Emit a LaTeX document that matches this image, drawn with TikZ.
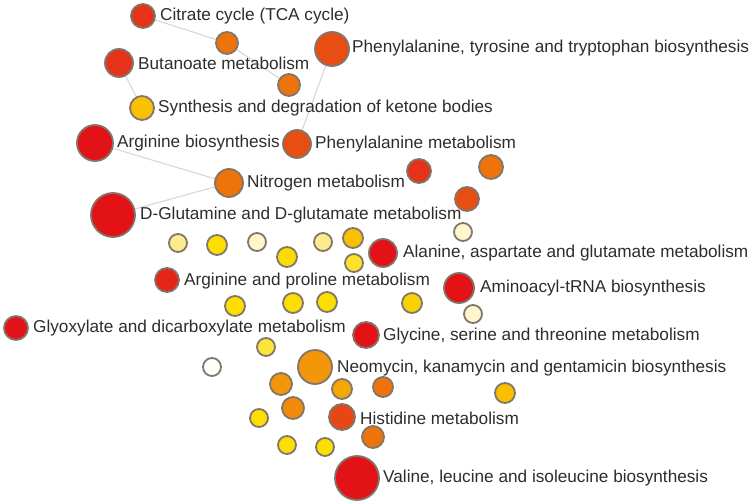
\documentclass[tikz,border=0pt]{standalone}
\usepackage{fontspec}
\setmainfont{Liberation Sans}
\usetikzlibrary{backgrounds}
\definecolor{bordg}{RGB}{128,118,108}
\definecolor{edgeg}{RGB}{215,215,215}
\definecolor{txtc}{RGB}{45,45,45}
\definecolor{cRed}{RGB}{227,18,22}
\definecolor{cRedOr}{RGB}{229,50,25}
\definecolor{cOrRed}{RGB}{232,78,20}
\definecolor{cOrange}{RGB}{238,115,10}
\definecolor{cOrYel}{RGB}{243,150,10}
\definecolor{cYelOr}{RGB}{248,192,0}
\definecolor{cYel}{RGB}{252,222,0}
\definecolor{cPaleY}{RGB}{253,236,140}
\definecolor{cCream}{RGB}{255,246,205}
\definecolor{cWhite}{RGB}{255,255,250}
\tikzset{
  nd/.style={circle, draw=bordg, line width=1.8bp, inner sep=0pt, minimum size=#1},
  lbl/.style={anchor=west, inner sep=0pt, text=txtc, font=\fontsize{17.2bp}{19bp}\selectfont},
  lnk/.style={draw=edgeg, line width=1.1bp}
}
\begin{document}
\begin{tikzpicture}[x=1bp,y=-1bp]
\useasboundingbox (0,0) rectangle (753,504);
% labelled nodes
\node[nd=24bp, fill=cRedOr] (citrate) at (143,16) {};
\node[nd=22bp, fill=cOrange] (a1) at (227,43) {};
\node[nd=34bp, fill=cOrRed] (phetyr) at (332,49) {};
\node[nd=28bp, fill=cRedOr] (butan) at (119,63) {};
\node[nd=22bp, fill=cOrange] (a2) at (289,85) {};
\node[nd=24bp, fill=cYelOr] (synth) at (142,108) {};
\node[nd=36bp, fill=cRed] (argbio) at (95,143) {};
\node[nd=28bp, fill=cOrRed] (phemet) at (297,144) {};
\node[nd=28bp, fill=cOrange] (nitro) at (229,183) {};
\node[nd=44bp, fill=cRed] (dglu) at (113,215) {};
\node[nd=24bp, fill=cRedOr] (n1) at (419,171) {};
\node[nd=24bp, fill=cOrange] (n2) at (491,167) {};
\node[nd=24bp, fill=cOrRed] (n3) at (467,199) {};
\node[nd=18bp, fill=cCream] (n4) at (463,232) {};
\node[nd=18bp, fill=cPaleY] (y1) at (178,243) {};
\node[nd=20bp, fill=cYel] (y2) at (217,245) {};
\node[nd=18bp, fill=cCream] (y3) at (257,242) {};
\node[nd=18bp, fill=cPaleY] (y4) at (323,242) {};
\node[nd=20bp, fill=cYelOr] (y5) at (353,238) {};
\node[nd=20bp, fill=cYel!92!cYelOr] (y6) at (287,257) {};
\node[nd=18bp, fill=cYel!70!cPaleY] (y7) at (354,263) {};
\node[nd=28bp, fill=cRed] (alan) at (383,253) {};
\node[nd=24bp, fill=cRedOr!60!cRed] (argpro) at (167,280) {};
\node[nd=20bp, fill=cYel] (y8) at (235,306) {};
\node[nd=20bp, fill=cYel] (y9) at (293,303) {};
\node[nd=20bp, fill=cYel] (y10) at (327,302) {};
\node[nd=20bp, fill=cYel!60!cYelOr] (y11) at (412,303) {};
\node[nd=30bp, fill=cRed] (amino) at (459,288) {};
\node[nd=18bp, fill=cCream] (n5) at (473,314) {};
\node[nd=24bp, fill=cRed] (glyox) at (16,328) {};
\node[nd=26bp, fill=cRed] (glyc) at (366,335) {};
\node[nd=18bp, fill=cYel!60!cPaleY] (y12) at (266,347) {};
\node[nd=18bp, fill=cWhite] (w1) at (212,367) {};
\node[nd=34bp, fill=cOrYel] (neo) at (315,367) {};
\node[nd=22bp, fill=cOrYel] (o1) at (281,384) {};
\node[nd=20bp, fill=cOrYel!60!cYelOr] (o2) at (342,389) {};
\node[nd=20bp, fill=cOrange] (o3) at (383,387) {};
\node[nd=20bp, fill=cYelOr] (o4) at (505,393) {};
\node[nd=18bp, fill=cYel] (y13) at (259,418) {};
\node[nd=22bp, fill=cOrYel!70!cOrange] (o5) at (293,408) {};
\node[nd=26bp, fill=cOrRed!70!cRedOr] (hist) at (342,417) {};
\node[nd=22bp, fill=cOrange] (o6) at (373,437) {};
\node[nd=18bp, fill=cYel] (y14) at (287,445) {};
\node[nd=18bp, fill=cYel] (y15) at (325,447) {};
\node[nd=44bp, fill=cRed] (valine) at (357,478) {};
% labels
\node[lbl] (tcitrate) at (160,16) {Citrate cycle (TCA cycle)};
\node[lbl] (tphetyr) at (352,48) {Phenylalanine, tyrosine and tryptophan biosynthesis};
\node[lbl] (tbutan) at (138,63) {Butanoate metabolism};
\node[lbl] (tsynth) at (158,108) {Synthesis and degradation of ketone bodies};
\node[lbl] (targbio) at (117,143) {Arginine biosynthesis};
\node[lbl] (tphemet) at (315,144) {Phenylalanine metabolism};
\node[lbl] (tnitro) at (247,183) {Nitrogen metabolism};
\node[lbl] (tdglu) at (140,215) {D-Glutamine and D-glutamate metabolism};
\node[lbl] (talan) at (403,253) {Alanine, aspartate and glutamate metabolism};
\node[lbl] (targpro) at (184,281) {Arginine and proline metabolism};
\node[lbl] (tamino) at (480,288) {Aminoacyl-tRNA biosynthesis};
\node[lbl] (tglyox) at (33,328) {Glyoxylate and dicarboxylate metabolism};
\node[lbl] (tglyc) at (383,336) {Glycine, serine and threonine metabolism};
\node[lbl] (tneo) at (337,368) {Neomycin, kanamycin and gentamicin biosynthesis};
\node[lbl] (thist) at (360,418) {Histidine metabolism};
\node[lbl] (tvaline) at (383,478) {Valine, leucine and isoleucine biosynthesis};
% edges
\begin{scope}[on background layer]
\draw[lnk] (citrate) -- (a1);
\draw[lnk] (a1) -- (a2);
\draw[lnk] (butan) -- (synth);
\draw[lnk] (phetyr) -- (phemet);
\draw[lnk] (argbio) -- (nitro);
\draw[lnk] (dglu) -- (nitro);
\end{scope}
\end{tikzpicture}
\end{document}
